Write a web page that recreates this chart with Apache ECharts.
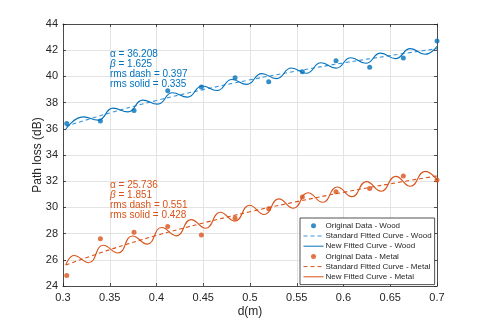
<!DOCTYPE html>
<html>
<head>
<meta charset="utf-8">
<script src="https://cdn.jsdelivr.net/npm/echarts@6/dist/echarts.min.js"></script>
<style>
  html, body { margin: 0; padding: 0; background: #fff; }
  #path-loss { width: 485px; height: 323px; }
</style>
</head>
<body>
<div id="path-loss"></div>
<script>
// measured points (d in m, loss in dB)
const dataX = [0.304, 0.34, 0.376, 0.412, 0.448, 0.484, 0.52, 0.556, 0.592, 0.628, 0.664, 0.7]
const woodData = [36.4, 36.6, 37.4, 38.9, 39.2, 39.9, 39.6, 40.35, 41.2, 40.7, 41.4, 42.7]
const metalData = [24.8, 27.6, 28.1, 28.55, 27.9, 29.2, 29.9, 30.8, 31.2, 31.45, 32.4, 32.1]

// standard (log-distance) fit
const dashX = [0.303, 0.35, 0.4, 0.45, 0.5, 0.55, 0.6, 0.65, 0.7]
const woodDash = [36.19, 37.21, 38.16, 38.99, 39.74, 40.41, 41.03, 41.59, 42.12]
const metalDash = [25.6, 26.77, 27.86, 28.81, 29.67, 30.44, 31.15, 31.8, 32.4]

// new fit, peaks and troughs
const woodSolidX = [0.303, 0.3217, 0.3376, 0.3535, 0.3694, 0.3853, 0.4012, 0.4171, 0.433, 0.4489, 0.4648, 0.4807, 0.4966,
  0.5125, 0.5284, 0.5443, 0.5602, 0.5761, 0.592, 0.6079, 0.6238, 0.6397, 0.6556, 0.6715, 0.6874, 0.7]
const woodSolid = [35.96, 36.91, 36.66, 37.58, 37.29, 38.19, 37.88, 38.75, 38.42, 39.27, 38.92, 39.76, 39.39,
  40.21, 39.83, 40.64, 40.24, 41.04, 40.63, 41.42, 41.0, 41.78, 41.36, 42.12, 41.69, 42.3]
const metalSolidX = [0.303, 0.3118, 0.3274, 0.3431, 0.3587, 0.3744, 0.39, 0.4056, 0.4213, 0.4369, 0.4526, 0.4682, 0.4838,
  0.4995, 0.5151, 0.5308, 0.5464, 0.562, 0.5777, 0.5933, 0.609, 0.6246, 0.6402, 0.6559, 0.6715, 0.6872, 0.7]
const metalSolid = [25.6, 26.33, 25.78, 27.11, 26.52, 27.82, 27.2, 28.47, 27.83, 29.07, 28.41, 29.63, 28.95,
  30.16, 29.46, 30.65, 29.94, 31.12, 30.39, 31.56, 30.82, 31.97, 31.23, 32.37, 31.61, 32.75, 32.1]

const xTicks = { min: 0.3, max: 0.7, step: 0.05 }
const yTicks = { min: 24, max: 44, step: 2 }

const woodNote = ['36.208', '1.625', '0.397', '0.335']
const metalNote = ['25.736', '1.851', '0.551', '0.428']

const BLUE = '#0072BD'
const BLUE_DASH = '#3a95d8'
const ORANGE = '#D95319'
const FONT = 'Liberation Sans, Arial, Helvetica, sans-serif'

const pairs = (xs, ys) => xs.map((x, i) => [x, ys[i]])

const noteText = (v) =>
  '{g|α} = ' + v[0] + '\n{gi|β} = ' + v[1] + '\nrms dash = ' + v[2] + '\nrms solid = ' + v[3]

const noteStyle = (color) => ({
  text: '',
  fill: color,
  font: '10px ' + FONT,
  lineHeight: 10,
  rich: {
    g: { fontFamily: FONT, fontSize: 10, fill: color, lineHeight: 10 },
    gi: { fontFamily: FONT, fontSize: 10, fontStyle: 'italic', fill: color, lineHeight: 10 }
  }
})

// line entries in the legend: no marker, thin line
const lineEntry = (name, color, dashed) => ({
  name,
  itemStyle: { opacity: 0, color: 'transparent', borderWidth: 0 },
  lineStyle: { color, width: 1, type: dashed ? [4, 3] : 'solid' }
})

const chart = echarts.init(document.getElementById('path-loss'), null, { renderer: 'canvas' })

const axisCommon = {
  axisLine: { show: true, lineStyle: { color: '#262626', width: 0.8 } },
  axisTick: { show: true, inside: true, length: 3, lineStyle: { color: '#262626', width: 0.8 } },
  axisLabel: { color: '#262626', fontSize: 11, fontFamily: FONT },
  splitLine: { show: true, lineStyle: { color: '#e3e3e3', width: 1 } }
}

chart.setOption({
  animation: false,
  backgroundColor: '#fff',
  textStyle: { fontFamily: FONT },
  grid: { left: 63, right: 48, top: 24, bottom: 36 },
  xAxis: [
    {
      ...axisCommon,
      type: 'value',
      min: xTicks.min,
      max: xTicks.max,
      interval: xTicks.step,
      name: 'd(m)',
      nameLocation: 'middle',
      nameGap: 20,
      nameMoveOverlap: false,
      nameTextStyle: { color: '#262626', fontSize: 12, fontFamily: FONT },
      axisLabel: { ...axisCommon.axisLabel, margin: 6, formatter: (v) => String(+v.toFixed(2)) }
    },
    {
      ...axisCommon,
      type: 'value',
      position: 'top',
      min: xTicks.min,
      max: xTicks.max,
      interval: xTicks.step,
      axisLabel: { show: false },
      splitLine: { show: false }
    }
  ],
  yAxis: [
    {
      ...axisCommon,
      type: 'value',
      min: yTicks.min,
      max: yTicks.max,
      interval: yTicks.step,
      name: 'Path loss (dB)',
      nameLocation: 'middle',
      nameGap: 19,
      nameMoveOverlap: false,
      nameTextStyle: { color: '#262626', fontSize: 12, fontFamily: FONT },
      axisLabel: { ...axisCommon.axisLabel, margin: 5 }
    },
    {
      ...axisCommon,
      type: 'value',
      position: 'right',
      min: yTicks.min,
      max: yTicks.max,
      interval: yTicks.step,
      axisLabel: { show: false },
      splitLine: { show: false }
    }
  ],
  legend: {
    orient: 'vertical',
    left: 300,
    top: 218,
    padding: [3, 3, 3, 3],
    itemWidth: 20,
    itemHeight: 5,
    itemGap: 0.6,
    backgroundColor: '#fff',
    borderColor: '#262626',
    borderWidth: 0.8,
    borderRadius: 0,
    textStyle: { fontSize: 8, lineHeight: 9.6, color: '#262626', fontFamily: FONT, padding: [0, 0, 0, -3] },
    data: [
      { name: 'Original Data - Wood', icon: 'circle' },
      lineEntry('Standard Fitted Curve - Wood', BLUE_DASH, true),
      lineEntry('New Fitted Curve - Wood', BLUE, false),
      { name: 'Original Data - Metal', icon: 'circle' },
      lineEntry('Standard Fitted Curve - Metal', ORANGE, true),
      lineEntry('New Fitted Curve - Metal', ORANGE, false)
    ]
  },
  series: [
    {
      name: 'Original Data - Wood',
      type: 'scatter',
      symbolSize: 5,
      itemStyle: { color: BLUE },
      data: pairs(dataX, woodData),
      z: 5
    },
    {
      name: 'Standard Fitted Curve - Wood',
      type: 'line',
      symbol: 'none',
      smooth: 0.4,
      lineStyle: { color: BLUE_DASH, width: 1.1, type: [4, 3] },
      itemStyle: { color: BLUE_DASH },
      data: pairs(dashX, woodDash)
    },
    {
      name: 'New Fitted Curve - Wood',
      type: 'line',
      symbol: 'none',
      smooth: 0.5,
      lineStyle: { color: BLUE, width: 1.1 },
      itemStyle: { color: BLUE },
      data: pairs(woodSolidX, woodSolid)
    },
    {
      name: 'Original Data - Metal',
      type: 'scatter',
      symbolSize: 5,
      itemStyle: { color: ORANGE },
      data: pairs(dataX, metalData),
      z: 5
    },
    {
      name: 'Standard Fitted Curve - Metal',
      type: 'line',
      symbol: 'none',
      smooth: 0.4,
      lineStyle: { color: ORANGE, width: 1.1, type: [4, 3] },
      itemStyle: { color: ORANGE },
      data: pairs(dashX, metalDash)
    },
    {
      name: 'New Fitted Curve - Metal',
      type: 'line',
      symbol: 'none',
      smooth: 0.5,
      lineStyle: { color: ORANGE, width: 1.1 },
      itemStyle: { color: ORANGE },
      data: pairs(metalSolidX, metalSolid)
    }
  ],
  graphic: [
    { type: 'text', left: 110, top: 49, z: 10, style: { ...noteStyle(BLUE), text: noteText(woodNote) } },
    { type: 'text', left: 110, top: 180, z: 10, style: { ...noteStyle(ORANGE), text: noteText(metalNote) } }
  ]
})
</script>
</body>
</html>
